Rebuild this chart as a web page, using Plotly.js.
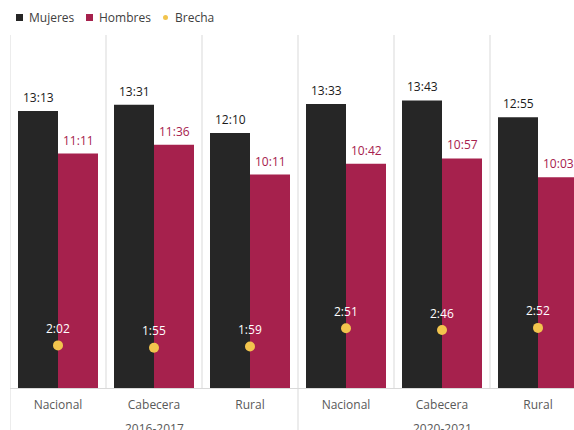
<!DOCTYPE html>
<html>
<head>
<meta charset="utf-8">
<script src="https://cdn.plot.ly/plotly-3.0.1.min.js"></script>
<style>html,body{margin:0;padding:0;background:#fff;}#chart{width:574px;height:430px;}</style>
</head>
<body>
<div id="chart"></div>
<script>
// ---- data ----
const categories = ['Nacional', 'Cabecera', 'Rural', 'Nacional', 'Cabecera', 'Rural'];
const groups = ['2016-2017', '2020-2021'];
const groupSizes = [3, 3];
const mujeres = ['13:13', '13:31', '12:10', '13:33', '13:43', '12:55'];
const hombres = ['11:11', '11:36', '10:11', '10:42', '10:57', '10:03'];
const brecha = ['2:02', '1:55', '1:59', '2:51', '2:46', '2:52'];
const seriesNames = ['Mujeres', 'Hombres', 'Brecha'];

// ---- helpers ----
function toHours(s) { const p = s.split(':'); return +p[0] + (+p[1]) / 60; }
const xs = categories.map((_, i) => i);
const colMuj = '#262626', colHom = '#A6214D', colBre = '#F2C44D';
const fontFam = '"Open Sans", "Noto Sans", sans-serif';

const W = 574, H = 430, mL = 10, mR = 0, mT = 35, mB = 42;
const plotW = W - mL - mR, plotH = H - mT - mB;
const xr = [-0.5, 5.375];
const yr = [0, 16.84];

const traces = [
  { type: 'bar', name: seriesNames[0], x: xs, y: mujeres.map(toHours), marker: { color: colMuj }, hoverinfo: 'skip' },
  { type: 'bar', name: seriesNames[1], x: xs, y: hombres.map(toHours), marker: { color: colHom }, hoverinfo: 'skip' },
  { type: 'scatter', mode: 'markers', name: seriesNames[2], x: xs, y: brecha.map(toHours), marker: { color: colBre, size: 10 }, hoverinfo: 'skip', cliponaxis: false }
];

const annotations = [];
xs.forEach(i => {
  annotations.push({ x: i, y: toHours(mujeres[i]), xref: 'x', yref: 'y', text: mujeres[i], showarrow: false, xshift: -20, yanchor: 'bottom', yshift: 3, font: { family: fontFam, size: 12, color: '#1a1a1a' } });
  annotations.push({ x: i, y: toHours(hombres[i]), xref: 'x', yref: 'y', text: hombres[i], showarrow: false, xshift: 20, yanchor: 'bottom', yshift: 3, font: { family: fontFam, size: 12, color: colHom } });
  annotations.push({ x: i, y: toHours(brecha[i]), xref: 'x', yref: 'y', text: brecha[i], showarrow: false, yanchor: 'middle', yshift: 17, font: { family: fontFam, size: 12, color: '#ffffff' } });
});

// group labels and divider lines
const shapes = [];
let start = 0;
const groupBounds = [-0.5];
groups.forEach((g, gi) => {
  const end = start + groupSizes[gi] - 1;
  annotations.push({ x: (start + end) / 2, y: 0, xref: 'x', yref: 'paper', text: g, showarrow: false, yanchor: 'middle', yshift: -40, font: { family: fontFam, size: 12, color: '#595959' } });
  groupBounds.push(end + 0.5);
  start = end + 1;
});
for (let b = -0.5; b <= categories.length - 0.5; b += 1) {
  const isGroup = groupBounds.indexOf(b) >= 0;
  shapes.push({ type: 'line', xref: 'x', yref: 'paper', x0: b, x1: b, y0: isGroup ? -mB / plotH : 0, y1: 1, line: { color: '#d9d9d9', width: 1 }, layer: 'below' });
}

// custom legend (paper coords converted from pixel layout)
function px2x(p) { return (p - mL) / plotW; }
function px2y(p) { return (H - mB - p) / plotH; }
const legY = 17.5;
const legend = [
  { name: seriesNames[0], color: colMuj, sym: 'rect', sx: 19.5, tx: 27 },
  { name: seriesNames[1], color: colHom, sym: 'rect', sx: 89.5, tx: 97 },
  { name: seriesNames[2], color: colBre, sym: 'circle', sx: 165.5, tx: 173 }
];
legend.forEach(l => {
  const h = l.sym === 'rect' ? 3.5 : 2.5;
  shapes.push({ type: l.sym, xref: 'paper', yref: 'paper', x0: px2x(l.sx - h), x1: px2x(l.sx + h), y0: px2y(legY + h), y1: px2y(legY - h), fillcolor: l.color, line: { width: 0 } });
  annotations.push({ x: px2x(l.tx), y: px2y(legY), xref: 'paper', yref: 'paper', xanchor: 'left', yanchor: 'middle', text: l.name, showarrow: false, font: { family: fontFam, size: 12, color: '#404040' } });
});

const layout = {
  width: W, height: H,
  margin: { l: mL, r: mR, t: mT, b: mB, pad: 0 },
  paper_bgcolor: '#ffffff', plot_bgcolor: '#ffffff',
  showlegend: false,
  barmode: 'group', bargap: 0.1667, bargroupgap: 0,
  font: { family: fontFam, size: 12, color: '#595959' },
  xaxis: {
    range: xr, tickmode: 'array', tickvals: xs, ticktext: categories,
    showgrid: false, zeroline: false, ticks: '', showline: true, linecolor: '#d9d9d9', linewidth: 1,
    tickfont: { family: fontFam, size: 12, color: '#595959' }, ticklabelstandoff: 6, fixedrange: true
  },
  yaxis: { range: yr, visible: false, showgrid: false, zeroline: false, fixedrange: true },
  shapes: shapes,
  annotations: annotations
};

Plotly.newPlot('chart', traces, layout, { displayModeBar: false, staticPlot: true });
</script>
</body>
</html>
